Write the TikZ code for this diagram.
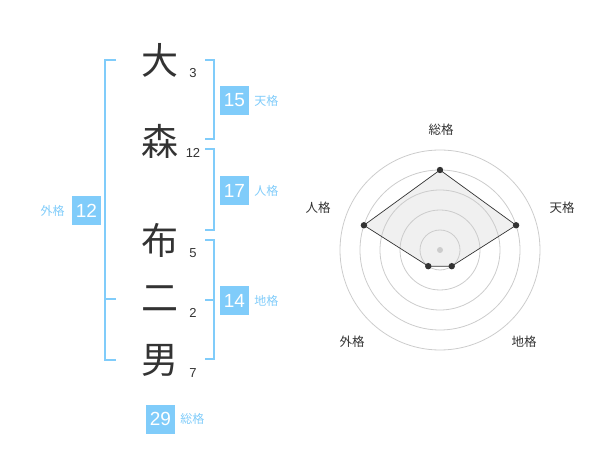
\documentclass[tikz,border=0pt]{standalone}
\usepackage{fontspec}
\setmainfont{Liberation Sans}
\newfontfamily\jpfont{Noto Sans CJK JP}
\usetikzlibrary{positioning}
\definecolor{kakublue}{RGB}{128,204,250}
\definecolor{inkgray}{RGB}{51,51,51}
\definecolor{ringgray}{RGB}{204,204,204}
\definecolor{areagray}{RGB}{240,240,240}

\begin{document}
\begin{tikzpicture}[x=1pt,y=-1pt,
  kanji/.style={text=inkgray,font=\jpfont\fontsize{37}{37}\selectfont,inner sep=0pt},
  stroke/.style={text=inkgray,font=\fontsize{13}{13}\selectfont,inner sep=0pt},
  kakubox/.style={fill=kakublue,text=white,minimum size=29pt,inner sep=0pt,font=\fontsize{19}{19}\selectfont},
  kakuname/.style={text=kakublue,font=\jpfont\fontsize{12}{12}\selectfont,inner sep=0pt},
  bracket/.style={draw=kakublue,line width=1.8pt},
  ring/.style={draw=ringgray,line width=0.8pt},
  axisname/.style={text=inkgray,font=\jpfont\fontsize{12.5}{12.5}\selectfont,inner sep=0pt},
  dot/.style={fill=inkgray}]
\useasboundingbox (0,0) rectangle (600,470);
% name column
\node[kanji] (Dai) at (160,60) {大};
\node[kanji] (Mori) at (160,141) {森};
\node[kanji] (Nuno) at (160,240) {布};
\node[kanji] (Ni) at (160,299) {二};
\node[kanji] (Otoko) at (160,360) {男};
\node[stroke] (DaiCount) at (193,73) {3};
\node[stroke] (MoriCount) at (193,153) {12};
\node[stroke] (NunoCount) at (193,253) {5};
\node[stroke] (NiCount) at (193,313) {2};
\node[stroke] (OtokoCount) at (193,373) {7};
% brackets
\draw[bracket] (116,60) -- (105,60) -- (105,360) -- (116,360);
\draw[bracket] (105,299) -- (116,299);
\draw[bracket] (205,60) -- (214,60) -- (214,139) -- (205,139);
\draw[bracket] (205,149) -- (214,149) -- (214,230) -- (205,230);
\draw[bracket] (205,240) -- (214,240) -- (214,359) -- (205,359);
\draw[bracket] (205,300) -- (214,300);
% scores
\node[kakubox] (Tenkaku) at (234.5,100.5) {15};
\node[kakuname,right=5pt of Tenkaku] (TenkakuName) {天格};
\node[kakubox] (Jinkaku) at (234.5,190.5) {17};
\node[kakuname,right=5pt of Jinkaku] (JinkakuName) {人格};
\node[kakubox] (Chikaku) at (234.5,300.5) {14};
\node[kakuname,right=5pt of Chikaku] (ChikakuName) {地格};
\node[kakubox] (Gaikaku) at (86.5,210.5) {12};
\node[kakuname,left=7pt of Gaikaku] (GaikakuName) {外格};
\node[kakubox] (Soukaku) at (160.5,419) {29};
\node[kakuname,right=5pt of Soukaku] (SoukakuName) {総格};
% radar
\begin{scope}[shift={(440,250)}]
\coordinate (RadarCenter) at (0,0);
\coordinate (SouPoint) at (-90:80);
\coordinate (TenPoint) at (-18:80);
\coordinate (ChiPoint) at (54:20);
\coordinate (GaiPoint) at (126:20);
\coordinate (JinPoint) at (198:80);
\fill[areagray] (SouPoint) -- (TenPoint) -- (ChiPoint) -- (GaiPoint) -- (JinPoint) -- cycle;
\foreach \r in {20,40,...,100}
  \draw[ring] (RadarCenter) circle (\r);
\fill[ringgray] (RadarCenter) circle (3);
\draw[inkgray,line width=0.7pt] (SouPoint) -- (TenPoint) -- (ChiPoint) -- (GaiPoint) -- (JinPoint) -- cycle;
\foreach \p in {SouPoint,TenPoint,ChiPoint,GaiPoint,JinPoint}
  \fill[dot] (\p) circle (3.2);
\node[axisname] (SouAxis) at (1,-120) {総格};
\node[axisname] (TenAxis) at (122,-42) {天格};
\node[axisname] (ChiAxis) at (84,92) {地格};
\node[axisname] (GaiAxis) at (-88,92) {外格};
\node[axisname] (JinAxis) at (-122,-42) {人格};
\end{scope}
\end{tikzpicture}
\end{document}
